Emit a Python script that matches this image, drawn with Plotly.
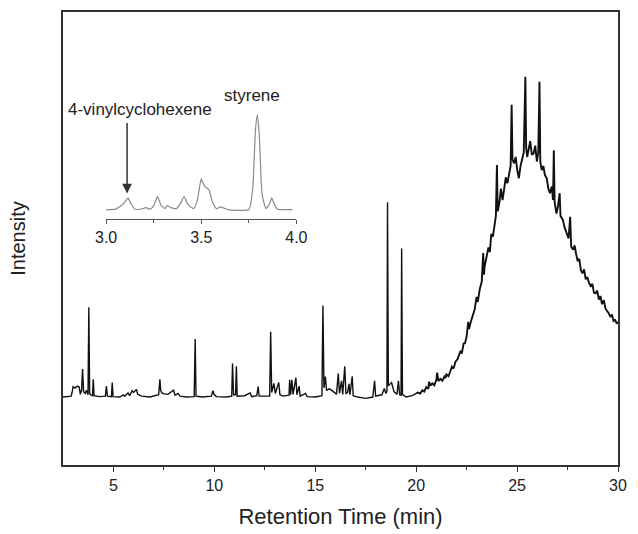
import plotly.graph_objects as go

# ---- main chromatogram: early region (retention time in min, intensity in arbitrary units)
rt_early = [2.50, 2.70, 2.90, 2.95, 3.00, 3.10, 3.20, 3.30, 3.36, 3.42, 3.47, 3.52, 3.60, 3.66, 3.74,
            3.78, 3.82, 3.88, 3.96, 4.00, 4.04, 4.30, 4.60, 4.65, 4.70, 4.90, 4.94, 4.98, 5.30, 5.50,
            5.56, 5.72, 5.80, 5.93, 6.00, 6.14, 6.20, 6.40, 6.80, 7.24, 7.30, 7.34, 7.40, 7.50, 7.70,
            7.98, 8.05, 8.20, 8.30, 8.60, 9.00, 9.05, 9.09, 9.40, 9.85, 9.93, 9.98, 10.10, 10.60, 10.86,
            10.90, 10.95, 11.05, 11.09, 11.13, 11.50, 11.77, 11.85, 12.10, 12.17, 12.22, 12.74, 12.79, 12.84, 12.95,
            13.02, 13.19, 13.25, 13.40, 13.70, 13.73, 13.78, 13.84, 13.90, 14.04, 14.09, 14.20, 14.25, 14.52, 14.60,
            15.00, 15.33, 15.38, 15.43, 15.50, 15.56, 15.70, 15.90, 16.05, 16.14, 16.20, 16.30, 16.36, 16.46, 16.52,
            16.60, 16.67, 16.72, 16.83, 16.88, 17.10, 17.50, 17.85, 17.94, 17.99, 18.30, 18.42, 18.50, 18.55, 18.58,
            18.62, 18.78, 18.90, 19.05, 19.12, 19.18, 19.25, 19.28, 19.32, 19.50, 19.80, 20.00]
int_early = [0.0, 0.1, 0.2, 1.0, 2.3, 2.0, 2.4, 2.2, 0.6, 1.5, 6.2, 1.2, 0.8, 1.5, 0.5,
             19.8, 0.8, 0.4, 0.3, 3.9, 0.3, 0.1, 0.2, 2.4, 0.2, 0.1, 3.2, 0.1, 0.0, 0.5,
             0.2, 0.9, 0.3, 1.4, 1.0, 1.7, 0.6, 0.2, 0.0, 0.5, 3.9, 1.5, 0.9, 0.7, 0.6,
             1.5, 0.4, 0.8, 0.2, 0.0, 0.1, 12.8, 0.2, 0.0, 0.2, 1.4, 0.6, 0.1, 0.0, 0.2,
             7.4, 0.5, 0.5, 6.8, 0.2, 0.3, 0.9, 0.1, 0.3, 2.3, 0.2, 0.2, 14.4, 1.0, 3.0,
             0.8, 3.2, 0.5, 0.2, 0.4, 3.8, 0.5, 3.8, 0.6, 4.3, 0.5, 2.4, 0.2, 0.8, 0.1,
             0.0, 0.3, 20.2, 2.0, 4.5, 1.5, 1.8, 1.2, 0.6, 5.2, 0.8, 3.6, 0.6, 6.8, 0.8,
             1.0, 2.9, 0.5, 4.6, 0.3, 0.0, -0.3, 0.0, 3.6, 0.2, 0.5, 1.9, 0.8, 1.2, 43.0,
             2.5, 3.2, 1.2, 0.6, 3.6, 0.5, 0.4, 32.8, 0.6, 0.0, 0.3, 0.8]

# ---- main chromatogram: broad hump region
rt_hump = [20.10, 20.20, 20.30, 20.40, 20.50, 20.60, 20.64, 20.70, 20.80, 20.90, 21.00, 21.04, 21.10, 21.20, 21.30,
           21.40, 21.45, 21.50, 21.60, 21.70, 21.77, 21.85, 21.95, 22.05, 22.10, 22.20, 22.26, 22.35, 22.42, 22.50,
           22.58, 22.62, 22.70, 22.80, 22.90, 22.99, 23.05, 23.15, 23.25, 23.32, 23.36, 23.39, 23.48, 23.58, 23.65,
           23.72, 23.80, 23.88, 23.95, 24.00, 24.04, 24.12, 24.20, 24.28, 24.36, 24.44, 24.52, 24.60, 24.68, 24.73,
           24.77, 24.85, 24.93, 25.01, 25.09, 25.17, 25.25, 25.33, 25.41, 25.45, 25.50, 25.57, 25.65, 25.73, 25.82,
           25.90, 25.98, 26.05, 26.11, 26.15, 26.22, 26.30, 26.38, 26.47, 26.55, 26.63, 26.72, 26.78, 26.82, 26.86,
           26.95, 27.02, 27.11, 27.15, 27.27, 27.35, 27.45, 27.55, 27.63, 27.68, 27.78, 27.85, 27.92, 28.00, 28.08,
           28.16, 28.24, 28.32, 28.40, 28.48, 28.57, 28.65, 28.73, 28.81, 28.89, 28.97, 29.05, 29.13, 29.21, 29.30,
           29.38, 29.46, 29.54, 29.62, 29.70, 29.78, 29.86, 29.94, 30.00]
int_hump = [1.0, 0.8, 1.5, 1.2, 2.2, 1.8, 3.4, 2.5, 3.0, 2.6, 3.8, 5.4, 3.5, 4.0, 3.6,
            4.5, 4.2, 5.0, 4.6, 5.8, 6.7, 6.3, 7.8, 8.4, 8.9, 10.2, 9.6, 11.8, 11.9, 13.4,
            16.6, 15.0, 16.5, 18.0, 19.4, 22.1, 21.0, 23.8, 25.5, 31.8, 27.0, 28.8, 30.5, 33.0, 32.0,
            36.0, 35.4, 38.5, 40.0, 51.2, 41.0, 42.8, 46.0, 43.5, 45.7, 48.5, 47.2, 49.0, 51.0, 64.5,
            52.5, 51.6, 53.0, 50.0, 48.3, 51.0, 52.3, 54.0, 70.7, 55.0, 53.0, 54.5, 56.5, 53.5, 53.8,
            55.5, 52.0, 54.0, 69.6, 52.0, 50.1, 51.0, 49.0, 48.3, 46.0, 45.0, 46.5, 43.5, 54.5, 43.0,
            40.5, 42.0, 45.0, 40.0, 39.1, 37.5, 36.0, 35.0, 39.8, 33.2, 32.5, 33.5, 31.7, 30.0, 30.5,
            28.0, 27.3, 28.2, 26.0, 26.5, 25.1, 24.5, 25.0, 23.0, 22.9, 23.5, 21.5, 22.3, 20.5, 21.4,
            19.5, 19.0, 18.5, 17.7, 18.2, 16.8, 17.0, 16.2, 16.6]

# ---- inset: 3.0-4.0 min expansion
rt_inset = [3.00, 3.05, 3.08, 3.10, 3.115, 3.13, 3.15, 3.18, 3.21, 3.23, 3.25, 3.27, 3.29, 3.31, 3.32,
            3.34, 3.37, 3.39, 3.41, 3.43, 3.46, 3.48, 3.50, 3.51, 3.52, 3.54, 3.56, 3.58, 3.60, 3.62,
            3.64, 3.75, 3.77, 3.785, 3.795, 3.805, 3.82, 3.84, 3.86, 3.87, 3.885, 3.90, 3.95, 3.98]
int_inset = [0.0, 0.5, 4.0, 8.0, 11.7, 6.0, 0.5, 0.3, 2.0, 0.3, 4.0, 13.0, 4.0, 1.0, 4.0,
             2.0, 1.0, 6.0, 13.0, 5.0, 1.0, 10.0, 31.0, 26.0, 23.0, 20.0, 7.0, 1.0, 2.7, 1.5,
             0.0, 0.0, 20.0, 80.0, 95.0, 75.0, 15.0, 1.0, 6.0, 11.7, 5.0, 0.3, 0.0, 0.0]

x_ticks_main = [5, 10, 15, 20, 25, 30]
x_ticks_inset = [3.0, 3.5, 4.0]
x_ticklabels_inset = ["3.0", "3.5", "4.0"]

FONT = "Liberation Sans, Arial, sans-serif"
W, H = 638, 534
ML, MR, MT, MB = 63, 9, 12, 68

fig = go.Figure()
fig.add_trace(go.Scatter(x=rt_early, y=int_early, mode="lines",
                         line=dict(color="#111111", width=1.4), showlegend=False,
                         xaxis="x", yaxis="y"))
fig.add_trace(go.Scatter(x=[rt_early[-1]] + rt_hump, y=[int_early[-1]] + int_hump, mode="lines",
                         line=dict(color="#111111", width=1.9), showlegend=False,
                         xaxis="x", yaxis="y"))
fig.add_trace(go.Scatter(x=rt_inset, y=int_inset, mode="lines",
                         line=dict(color="#8a8a8a", width=1.2, shape="spline", smoothing=0.5),
                         showlegend=False, xaxis="x2", yaxis="y2"))

pw = W - ML - MR
ph = H - MT - MB
def px_to_paper_x(px):
    return (px - ML) / pw
def px_to_paper_y(py):
    return (H - MB - py) / ph

fig.update_layout(
    width=W, height=H,
    margin=dict(l=ML, r=MR, t=MT, b=MB),
    paper_bgcolor="white", plot_bgcolor="white",
    font=dict(family=FONT, color="#222222"),
    xaxis=dict(range=[2.5, 30], tickvals=x_ticks_main, ticks="outside", ticklen=5, tickwidth=1.2,
               tickcolor="#333333", showline=True, linecolor="#333333", linewidth=1.5, mirror=True,
               showgrid=False, zeroline=False, tickfont=dict(size=16, family=FONT, color="#222222"),
               minor=dict(tickvals=[7.5, 12.5, 17.5, 22.5, 27.5], ticks="outside", ticklen=3,
                          tickcolor="#333333", tickwidth=1.2),
               title=dict(text="Retention Time (min)", font=dict(size=22, family=FONT, color="#222222"),
                          standoff=16)),
    yaxis=dict(range=[-15, 85], showticklabels=False, ticks="", showline=True, linecolor="#333333",
               linewidth=1.5, mirror=True, showgrid=False, zeroline=False,
               title=dict(text="Intensity", font=dict(size=20, family=FONT, color="#222222"),
                          standoff=30)),
    xaxis2=dict(domain=[px_to_paper_x(107), px_to_paper_x(301)], anchor="y2", range=[3.0, 4.0],
                tickvals=x_ticks_inset, ticktext=x_ticklabels_inset, ticks="outside", ticklen=4,
                tickcolor="#555555", showline=True, linecolor="#555555", linewidth=1.2,
                showgrid=False, zeroline=False, tickfont=dict(size=16, family=FONT, color="#222222"),
                minor=dict(tickvals=[3.25, 3.75], ticks="outside", ticklen=3, tickcolor="#555555")),
    yaxis2=dict(domain=[px_to_paper_y(219), px_to_paper_y(112)], anchor="x2", range=[-9, 98],
                visible=False),
)

fig.add_annotation(xref="x2", yref="y2", x=3.11, y=16, ax=0, ay=-72, text="",
                   showarrow=True, arrowhead=2, arrowsize=1.3, arrowwidth=1.5, arrowcolor="#333333")
fig.add_annotation(xref="paper", yref="paper", x=px_to_paper_x(141.5), y=px_to_paper_y(110),
                   text="4-vinylcyclohexene", showarrow=False, xanchor="center", yanchor="middle",
                   font=dict(size=17, family=FONT, color="#222222"))
fig.add_annotation(xref="paper", yref="paper", x=px_to_paper_x(256), y=px_to_paper_y(96),
                   text="styrene", showarrow=False, xanchor="center", yanchor="middle",
                   font=dict(size=17, family=FONT, color="#222222"))

fig.write_html("out.html")
